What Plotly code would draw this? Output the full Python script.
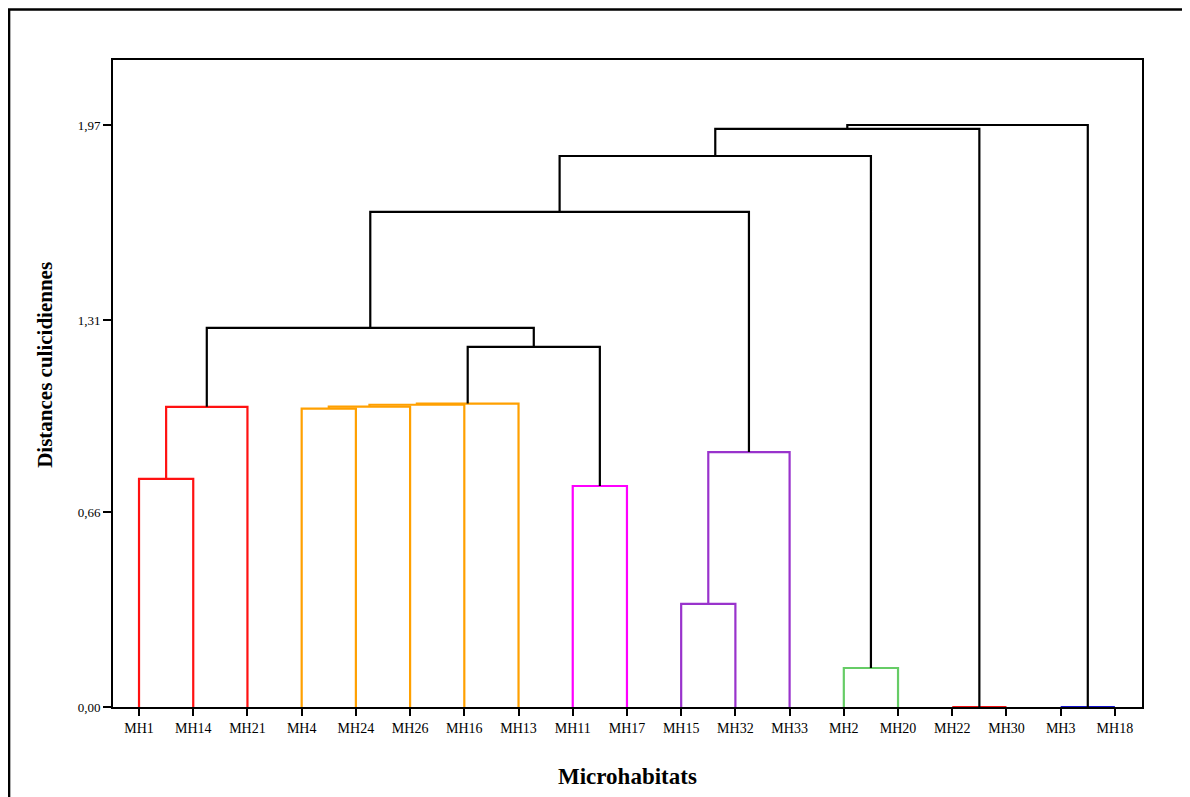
import plotly.graph_objects as go

# Leaf labels in dendrogram order
leaves = ["MH1", "MH14", "MH21", "MH4", "MH24", "MH26", "MH16", "MH13", "MH11", "MH17",
          "MH15", "MH32", "MH33", "MH2", "MH20", "MH22", "MH30", "MH3", "MH18"]

# Merges: (child a, child b, height, colour); node ids: leaves 0..18, merges 19..
merge_a = [15, 17, 13, 10, 8, 0, 22, 3, 26, 27, 28, 24, 29, 30, 32, 33, 34, 35]
merge_b = [16, 18, 14, 11, 9, 1, 12, 4, 5, 6, 7, 2, 23, 31, 25, 21, 19, 20]
merge_h = [0.000, 0.000, 0.132, 0.349, 0.748, 0.772, 0.863, 1.010, 1.017, 1.023, 1.027,
           1.016, 1.219, 1.283, 1.676, 1.865, 1.957, 1.970]
merge_c = ["#EE1111", "#1111CC", "#66CC66", "#9933CC", "#FF00FF", "#FF1111", "#9933CC",
           "#FFA000", "#FFA000", "#FFA000", "#FFA000", "#FF1111",
           "black", "black", "black", "black", "black", "black"]

y_ticks = [0.00, 0.66, 1.31, 1.97]
y_tick_text = ["0,00", "0,66", "1,31", "1,97"]

n = len(leaves)
pos_x = {i: float(i) for i in range(n)}
pos_h = {i: 0.0 for i in range(n)}

fig = go.Figure()
for k, (a, b, h, c) in enumerate(zip(merge_a, merge_b, merge_h, merge_c)):
    node = n + k
    xs = [pos_x[a], pos_x[a], pos_x[b], pos_x[b]]
    ys = [pos_h[a], h, h, pos_h[b]]
    fig.add_trace(go.Scatter(x=xs, y=ys, mode="lines",
                             line=dict(color=c, width=2.2),
                             cliponaxis=False, hoverinfo="skip", showlegend=False))
    pos_x[node] = (pos_x[a] + pos_x[b]) / 2
    pos_h[node] = h

font_family = "Liberation Serif, Times New Roman, serif"

fig.update_layout(
    width=1190, height=797,
    margin=dict(l=105, r=56, t=52, b=98),
    paper_bgcolor="white", plot_bgcolor="white",
    showlegend=False,
    font=dict(family=font_family, color="black"),
    xaxis=dict(range=[-0.48, n - 1 + 0.5], tickvals=list(range(n)), ticktext=leaves,
               showgrid=False, zeroline=False, showline=True, linecolor="black", linewidth=2,
               mirror=True, ticks="outside", ticklen=7, tickwidth=2, tickcolor="black",
               tickfont=dict(size=14, family=font_family, color="black")),
    yaxis=dict(range=[0, 2.19], tickvals=y_ticks, ticktext=y_tick_text,
               showgrid=False, zeroline=False, showline=True, linecolor="black", linewidth=2,
               mirror=True, ticks="outside", ticklen=8, tickwidth=2, tickcolor="black",
               tickfont=dict(size=13, family=font_family, color="black")),
    annotations=[
        dict(text="<b>Distances culicidiennes</b>", xref="paper", yref="paper",
             x=-0.066, y=0.529, textangle=-90, showarrow=False,
             xanchor="center", yanchor="middle",
             font=dict(size=21, family=font_family, color="black")),
        dict(text="<b>Microhabitats</b>", xref="paper", yref="paper",
             x=0.5, y=-0.108, showarrow=False, xanchor="center", yanchor="middle",
             font=dict(size=23, family=font_family, color="black")),
    ],
    shapes=[dict(type="rect", xref="paper", yref="paper",
                 x0=-0.101, y0=-0.3, x1=1.3, y1=1.078,
                 line=dict(color="black", width=2.5), layer="below")],
)

fig.write_html("out.html")
